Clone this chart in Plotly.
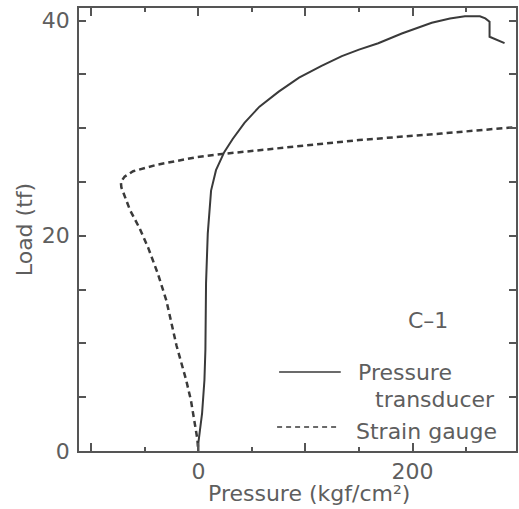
import plotly.graph_objects as go

# Load vs. contact pressure for specimen C-1
transducer_pressure = [0, 0, 1.5, 3.4, 5.6, 6.5, 7.1, 8.7, 11.8, 16.4, 24.2, 32, 43, 57,
                       75, 94, 115, 134, 150, 168, 190, 218, 235, 249, 263, 268, 272, 272, 286]
transducer_load = [0, 0.8, 2.0, 3.5, 6.6, 9.4, 15.6, 20.2, 24.2, 26.1, 27.8, 29.0, 30.5, 32.0,
                   33.4, 34.7, 35.8, 36.7, 37.3, 37.9, 38.8, 39.8, 40.2, 40.4, 40.4, 40.2,
                   39.9, 38.5, 37.9]

gauge_pressure = [-0.5, -1, -7, -11.5, -20.5, -30, -38, -47, -55, -64, -72, -72.5, -69,
                  -61, -39, -2, 22, 60, 94, 150, 227, 296]
gauge_load = [0.4, 1.1, 4.7, 6.6, 9.8, 14.0, 16.5, 18.9, 20.7, 22.4, 24.5, 25.0, 25.5,
              26.0, 26.6, 27.3, 27.6, 28.0, 28.35, 28.9, 29.5, 30.1]

x_major = [-100, 0, 100, 200]
x_major_text = ["", "0", "", "200"]
x_minor = [-50, 50, 150, 250]
y_ticks = [0, 5, 10, 15, 20, 25, 30, 35, 40]
y_tick_text = ["0", "", "", "", "20", "", "", "", "40"]

INK = "#3a3a3a"
GREY = "#5e5e5e"
AXIS = "#555555"
FONT = "DejaVu Sans"

fig = go.Figure()
fig.add_trace(go.Scatter(x=transducer_pressure, y=transducer_load, mode="lines",
                         line=dict(color=INK, width=2), showlegend=False))
fig.add_trace(go.Scatter(x=gauge_pressure, y=gauge_load, mode="lines",
                         line=dict(color=INK, width=2.5, dash="6px,4px"), showlegend=False))

axis_common = dict(showgrid=False, zeroline=False, showline=True, linecolor=AXIS,
                   linewidth=1.5, mirror="ticks", ticks="inside", tickcolor=AXIS,
                   tickwidth=1.5, tickfont=dict(family=FONT, size=22, color=GREY))

fig.update_xaxes(range=[-111.6, 296.7], tickmode="array", tickvals=x_major,
                 ticktext=x_major_text, ticklen=8,
                 minor=dict(tickmode="array", tickvals=x_minor, ticks="inside",
                            ticklen=4, tickcolor=AXIS, tickwidth=1.5),
                 **axis_common)
fig.update_yaxes(range=[0, 41.17], tickmode="array", tickvals=y_ticks,
                 ticktext=y_tick_text, ticklen=7, ticklabelstandoff=3, **axis_common)

text_font = dict(family=FONT, size=22, color=GREY)
annotations = [
    dict(text="Pressure (kgf/cm²)", x=0.526, y=-0.097, xanchor="center", yanchor="middle"),
    dict(text="Load (tf)", x=-0.123, y=0.499, xanchor="center", yanchor="middle", textangle=-90),
    dict(text="C–1", x=0.7995, y=0.2957, xanchor="center", yanchor="middle"),
    dict(text="Pressure", x=0.633, y=0.1783, xanchor="left", yanchor="middle"),
    dict(text="transducer", x=0.9567, y=0.117, xanchor="right", yanchor="middle"),
    dict(text="Strain gauge", x=0.6287, y=0.0429, xanchor="left", yanchor="middle"),
]
for a in annotations:
    fig.add_annotation(xref="paper", yref="paper", showarrow=False, font=text_font, **a)

# legend keys
fig.add_shape(type="line", xref="paper", yref="paper", x0=0.4579, x1=0.599,
              y0=0.1783, y1=0.1783, line=dict(color=INK, width=1.5))
fig.add_shape(type="line", xref="paper", yref="paper", x0=0.4533, x1=0.59,
              y0=0.0542, y1=0.0542, line=dict(color=INK, width=1.5, dash="5px,4px"))

fig.update_layout(width=519, height=509, margin=dict(l=79, r=1, t=8, b=58),
                  plot_bgcolor="white", paper_bgcolor="white", showlegend=False)

fig.write_html("out.html")
